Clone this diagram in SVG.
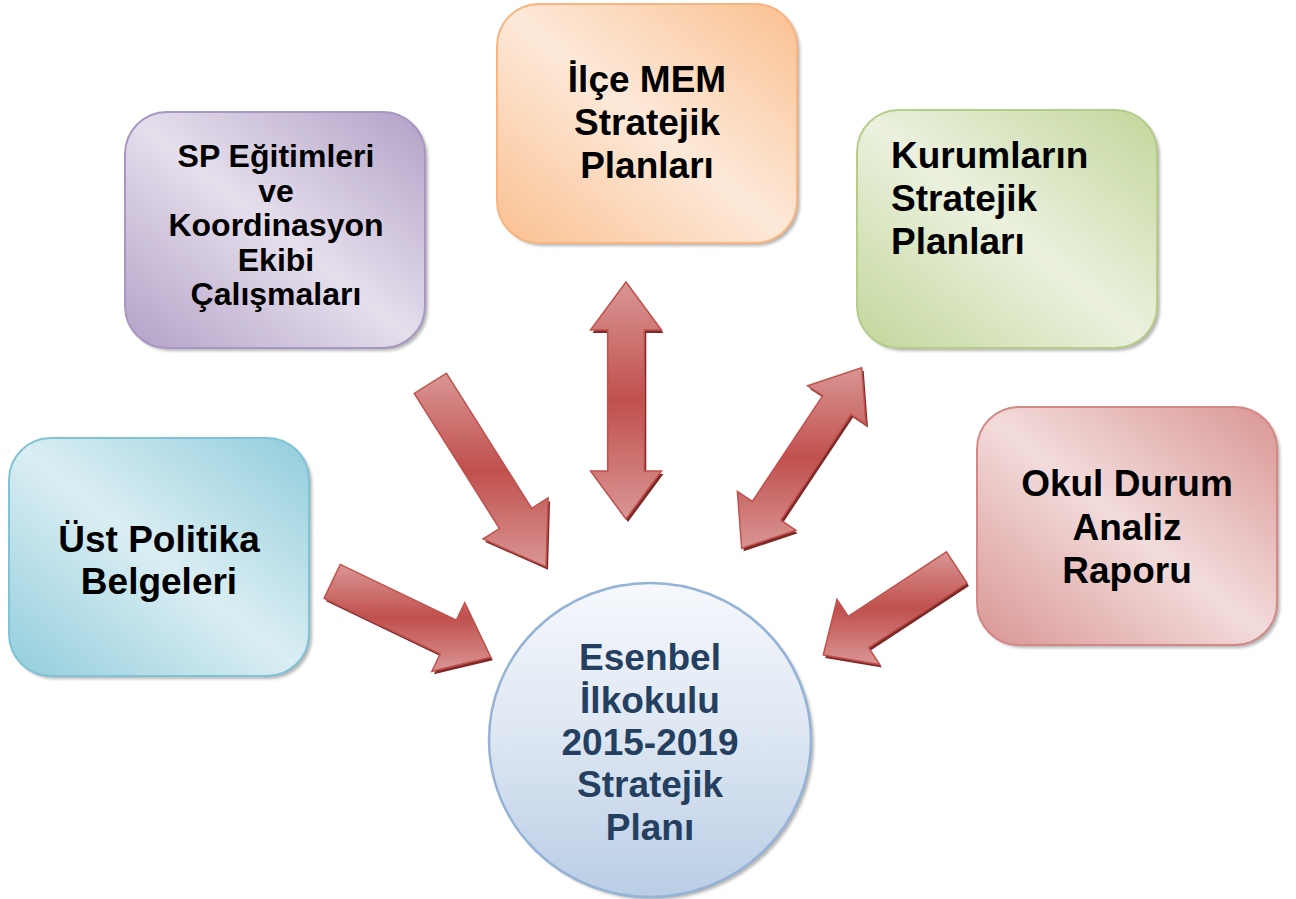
<svg xmlns="http://www.w3.org/2000/svg" width="1296" height="899" viewBox="0 0 1296 899">
<style>
.t{font-family:"Liberation Sans",Arial,sans-serif;font-weight:bold;fill:#000;text-anchor:middle}
.t37{font-size:37px}
.t32{font-size:32px}
.tl{text-anchor:start}
.tc{fill:#243F60}
.sh{fill:#7a7a7a;opacity:0.55;filter:url(#blur)}
.arr{stroke:#C0504D;stroke-width:1.5;stroke-linejoin:miter;fill:url(#gArr)}
.arrsh{fill:#7F2A28}
</style>
<defs>
<filter id="blur" x="-10%" y="-10%" width="120%" height="120%"><feGaussianBlur stdDeviation="1.5"/></filter>
<linearGradient id="gArr" x1="0" y1="0" x2="0" y2="1">
<stop offset="0" stop-color="#D99694"/><stop offset="0.5" stop-color="#C0504D"/><stop offset="1" stop-color="#D99694"/>
</linearGradient>
<linearGradient id="gPur" x1="0" y1="1" x2="1" y2="0">
<stop offset="0" stop-color="#B2A1C7"/><stop offset="0.5" stop-color="#E5DFEC"/><stop offset="1" stop-color="#B2A1C7"/>
</linearGradient>
<linearGradient id="gOra" x1="0" y1="1" x2="1" y2="0">
<stop offset="0" stop-color="#FAC090"/><stop offset="0.5" stop-color="#FDE9D9"/><stop offset="1" stop-color="#FAC090"/>
</linearGradient>
<linearGradient id="gGre" x1="0" y1="1" x2="1" y2="0">
<stop offset="0" stop-color="#C3D69B"/><stop offset="0.5" stop-color="#EBF1DE"/><stop offset="1" stop-color="#C3D69B"/>
</linearGradient>
<linearGradient id="gBlu" x1="0" y1="1" x2="1" y2="0">
<stop offset="0" stop-color="#92CDDC"/><stop offset="0.5" stop-color="#DAEEF3"/><stop offset="1" stop-color="#92CDDC"/>
</linearGradient>
<linearGradient id="gRed" x1="0" y1="1" x2="1" y2="0">
<stop offset="0" stop-color="#D99694"/><stop offset="0.5" stop-color="#F2DCDB"/><stop offset="1" stop-color="#D99694"/>
</linearGradient>
<linearGradient id="gCir" x1="0" y1="0" x2="0" y2="1">
<stop offset="0" stop-color="#F6F8FC"/><stop offset="0.5" stop-color="#DCE6F2"/><stop offset="1" stop-color="#B9CDE5"/>
</linearGradient>
</defs>
<rect width="1296" height="899" fill="#fff"/>

<g id="connectors">
<g id="arrow-purple">
<polygon class="arrsh" transform="translate(2,3)" points="414.2,393.4 499.5,528.6 483.1,539 546,566.7 548.1,498 531.7,508.3 446.4,373.2"/>
<polygon class="arr" points="414.2,393.4 499.5,528.6 483.1,539 546,566.7 548.1,498 531.7,508.3 446.4,373.2"/>
</g>
<g id="arrow-orange">
<polygon class="arrsh" transform="translate(2,3)" points="626,282 661.5,330 644.3,330 644.3,471 661.5,471 626,519 590.5,471 607.7,471 607.7,330 590.5,330"/>
<polygon class="arr" points="626,282 661.5,330 644.3,330 644.3,471 661.5,471 626,519 590.5,471 607.7,471 607.7,330 590.5,330"/>
</g>
<g id="arrow-green">
<polygon class="arrsh" transform="translate(2,3)" points="861.7,367.7 866,424.6 851,414.6 780.8,520.2 795.8,530.2 741.7,548.3 737.4,491.4 752.4,501.4 822.6,395.8 807.6,385.8"/>
<polygon class="arr" points="861.7,367.7 866,424.6 851,414.6 780.8,520.2 795.8,530.2 741.7,548.3 737.4,491.4 752.4,501.4 822.6,395.8 807.6,385.8"/>
</g>
<g id="arrow-blue">
<polygon class="arrsh" transform="translate(2,3)" points="324.1,598.2 440.2,653.9 431.9,671.3 490.7,657.3 464.7,602.7 456.4,620.1 340.3,564.4"/>
<polygon class="arr" points="324.1,598.2 440.2,653.9 431.9,671.3 490.7,657.3 464.7,602.7 456.4,620.1 340.3,564.4"/>
</g>
<g id="arrow-red">
<polygon class="arrsh" transform="translate(2,3)" points="946.4,551.9 848.2,616.3 837,599.4 823.3,655 879.8,664.6 868.7,647.6 967,583.1"/>
<polygon class="arr" points="946.4,551.9 848.2,616.3 837,599.4 823.3,655 879.8,664.6 868.7,647.6 967,583.1"/>
</g>
</g>

<g id="node-sp">
<rect class="sh" x="128" y="115" width="300" height="236" rx="42"/>
<rect x="125" y="112" width="300" height="236" rx="42" fill="url(#gPur)" stroke="#A897C2" stroke-width="2"/>
<text class="t t32" x="276" y="167">SP Eğitimleri</text>
<text class="t t32" x="276" y="201.5">ve</text>
<text class="t t32" x="276" y="236">Koordinasyon</text>
<text class="t t32" x="276" y="270.5">Ekibi</text>
<text class="t t32" x="276" y="305">Çalışmaları</text>
</g>

<g id="node-ilce">
<rect class="sh" x="500" y="7" width="300" height="239" rx="42"/>
<rect x="497" y="4" width="300" height="239" rx="42" fill="url(#gOra)" stroke="#F8B582" stroke-width="2"/>
<text class="t t37" x="647" y="92">İlçe MEM</text>
<text class="t t37" x="647" y="135">Stratejik</text>
<text class="t t37" x="647" y="178">Planları</text>
</g>

<g id="node-kurum">
<rect class="sh" x="860" y="113" width="300" height="238" rx="42"/>
<rect x="857" y="110" width="300" height="238" rx="42" fill="url(#gGre)" stroke="#B6CC89" stroke-width="2"/>
<text class="t t37 tl" x="891" y="168">Kurumların</text>
<text class="t t37 tl" x="891" y="211">Stratejik</text>
<text class="t t37 tl" x="891" y="254">Planları</text>
</g>

<g id="node-ust">
<rect class="sh" x="12" y="441" width="300" height="238" rx="42"/>
<rect x="9" y="438" width="300" height="238" rx="42" fill="url(#gBlu)" stroke="#7FC3D5" stroke-width="2"/>
<text class="t t37" x="159" y="552">Üst Politika</text>
<text class="t t37" x="159" y="594">Belgeleri</text>
</g>

<g id="node-okul">
<rect class="sh" x="980" y="410" width="300" height="238" rx="42"/>
<rect x="977" y="407" width="300" height="238" rx="42" fill="url(#gRed)" stroke="#D48886" stroke-width="2"/>
<text class="t t37" x="1127" y="496">Okul Durum</text>
<text class="t t37" x="1127" y="539.5">Analiz</text>
<text class="t t37" x="1127" y="583">Raporu</text>
</g>

<g id="node-plan">
<ellipse class="sh" cx="653" cy="743" rx="161" ry="157"/>
<ellipse cx="650" cy="740" rx="161" ry="157" fill="url(#gCir)" stroke="#95B3D7" stroke-width="2.5"/>
<text class="t t37 tc" x="650" y="670">Esenbel</text>
<text class="t t37 tc" x="650" y="713">İlkokulu</text>
<text class="t t37 tc" x="650" y="755">2015-2019</text>
<text class="t t37 tc" x="650" y="797">Stratejik</text>
<text class="t t37 tc" x="650" y="840">Planı</text>
</g>
</svg>
